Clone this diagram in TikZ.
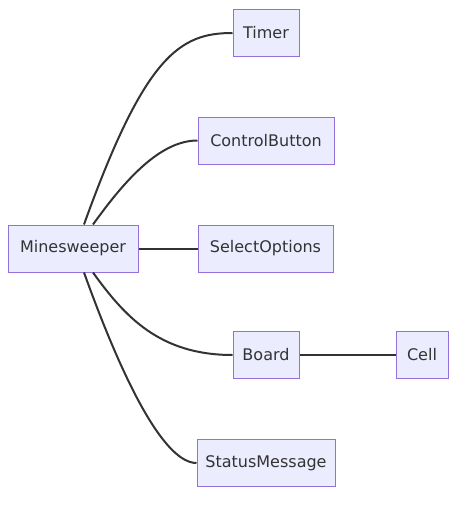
\documentclass[tikz,border=0pt]{standalone}
\usepackage{fontspec}
\setmainfont{DejaVu Sans}
\usetikzlibrary{calc,positioning}
\definecolor{boxfill}{HTML}{ECECFF}
\definecolor{boxline}{HTML}{9370DB}
\definecolor{linkcol}{HTML}{333333}

\begin{document}
\begin{tikzpicture}[x=1pt,y=-1pt,
    box/.style={draw=boxline, fill=boxfill, line width=1pt, minimum height=47pt, inner xsep=0pt, font=\fontsize{16}{19}\selectfont, text=linkcol},
    link/.style={draw=linkcol, line width=2pt}]

    \useasboundingbox (0,0) rectangle (456,506);

    \node[box, minimum width=130pt] (mine) at (73,248.5) {Minesweeper};
    \node[box, minimum width=66pt]  (timer) at (266,33) {Timer};
    \node[box, minimum width=136pt] (ctrl) at (266,140.5) {ControlButton};
    \node[box, minimum width=135pt] (sel) at (265.5,248.5) {SelectOptions};
    \node[box, minimum width=66pt]  (board) at (266,355) {Board};
    \node[box, minimum width=52pt]  (cell) at (422,355) {Cell};
    \node[box, minimum width=138pt] (status) at (266,463) {StatusMessage};

    \draw[link] ([xshift=11pt]mine.north) .. controls (145,55) and (180,33) .. (timer.west);
    \draw[link] ([xshift=20pt]mine.north) .. controls (125,180) and (160,140.5) .. (ctrl.west);
    \draw[link] (mine.east) -- (sel.west);
    \draw[link] ([xshift=20pt]mine.south) .. controls (125,317) and (160,355) .. (board.west);
    \draw[link] ([xshift=11pt]mine.south) .. controls (145,442) and (180,463) .. (status.west);
    \draw[link] (board.east) -- (cell.west);

\end{tikzpicture}
\end{document}
